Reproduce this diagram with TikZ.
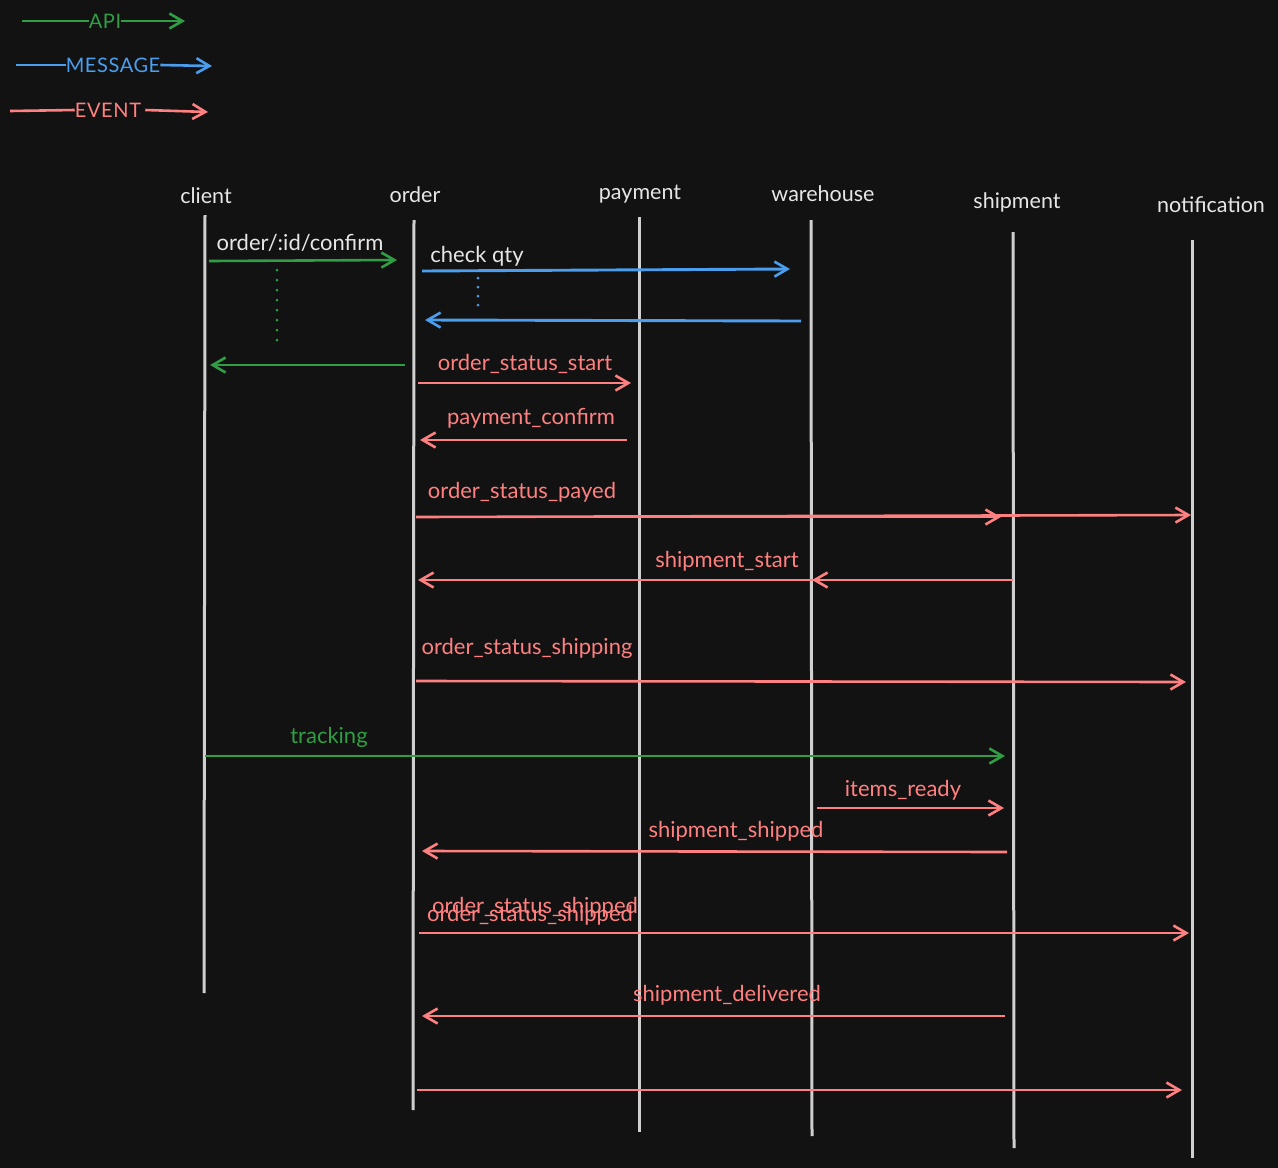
\documentclass[tikz,border=0pt]{standalone}
\usepackage{fontspec}
\setmainfont{Lato}
\usetikzlibrary{arrows.meta}
\definecolor{bg}{HTML}{121212}
\definecolor{ink}{HTML}{E6E6E6}
\definecolor{life}{HTML}{CFCFCF}
\definecolor{apic}{HTML}{2F9E44}
\definecolor{msgc}{HTML}{4A9EED}
\definecolor{evc}{HTML}{FF8080}
\tikzset{
  tip/.style={-{Straight Barb[length=13pt,width=15pt,line width=2.6pt]}},
  api/.style={tip,draw=apic,line width=2.6pt},
  msg/.style={tip,draw=msgc,line width=2.9pt},
  evt/.style={tip,draw=evc,line width=2.6pt},
  plain/.style={line width=2.6pt},
  lifeline/.style={draw=life,line width=3pt},
  dots/.style={line width=3pt,line cap=round,dash pattern=on 0pt off 10pt},
  head/.style={text=ink,font=\fontsize{21.5}{24}\selectfont,inner sep=0pt},
  lbl/.style={font=\fontsize{22}{25}\selectfont,inner sep=0pt},
  leg/.style={font=\fontsize{20}{23}\selectfont\addfontfeatures{LetterSpace=3},inner sep=0pt},
}
\begin{document}
\begin{tikzpicture}[x=1pt,y=-1pt]
\fill[bg] (0,0) rectangle (1278,1168);
\useasboundingbox (0,0) rectangle (1278,1168);

% legend
\node[leg,text=apic] (lapi) at (105,21) {API};
\coordinate (lapiA) at (22,21); \coordinate (lapiB) at (185,21);
\draw[apic,plain] (lapiA) -- (lapi.west);
\draw[api] (lapi.east) -- (lapiB);
\node[leg,text=msgc] (lmsg) at (113,65) {MESSAGE};
\coordinate (lmsgA) at (16,65); \coordinate (lmsgB) at (212,66);
\draw[msgc,plain] (lmsgA) -- (lmsg.west);
\draw[msg,line width=2.6pt] (lmsg.east) -- (lmsgB);
\node[leg,text=evc] (levt) at (108,110) {EVENT};
\coordinate (levtA) at (10,111); \coordinate (levtB) at (208,112);
\draw[evc,plain] (levtA) -- (levt.west);
\draw[evt] ([xshift=4pt]levt.east) -- (levtB);

% participants
\node[head] (client) at (206,196) {client};
\node[head] (order) at (415,195) {order};
\node[head] (payment) at (640,194) {payment};
\node[head] (warehouse) at (823,194) {warehouse};
\node[head] (shipment) at (1017,202) {shipment};
\node[head] (notification) at (1211,205) {notification};

% lifelines
\coordinate (clientT) at (205,215); \coordinate (clientB) at (204,993);
\coordinate (orderT) at (414,220); \coordinate (orderB) at (413,1110);
\coordinate (paymentT) at (639,217); \coordinate (paymentB) at (639,1132);
\coordinate (warehouseT) at (811,220); \coordinate (warehouseB) at (812,1136);
\coordinate (shipmentT) at (1013,232); \coordinate (shipmentB) at (1014,1148);
\coordinate (notificationT) at (1192,240); \coordinate (notificationB) at (1192,1158);
\foreach \p in {client,order,payment,warehouse,shipment,notification}
  \draw[lifeline] (\p T) -- (\p B);

% confirm request and reply
\node[lbl,text=ink] (tConfirm) at (300,243) {order/:id/confirm};
\coordinate (c1a) at (209,261); \coordinate (c1b) at (397,260);
\draw[api] (c1a) -- (c1b);
\coordinate (w1a) at (277,270); \coordinate (w1b) at (277,350);
\draw[apic,dots] (w1a) -- (w1b);
\coordinate (c2a) at (405,365); \coordinate (c2b) at (210,365);
\draw[api] (c2a) -- (c2b);

% stock check
\node[lbl,text=ink] (tQty) at (477,256) {check qty};
\coordinate (m1a) at (422,271); \coordinate (m1b) at (790,269);
\draw[msg] (m1a) -- (m1b);
\coordinate (w2a) at (478,278); \coordinate (w2b) at (478,308);
\draw[msgc,dots,dash pattern=on 0pt off 9pt] (w2a) -- (w2b);
\coordinate (m2a) at (801,321); \coordinate (m2b) at (425,320);
\draw[msg] (m2a) -- (m2b);

% payment
\node[lbl,text=evc] (tStart) at (525,364) {order\_status\_start};
\coordinate (e1a) at (418,383); \coordinate (e1b) at (631,383);
\draw[evt] (e1a) -- (e1b);
\node[lbl,text=evc] (tPay) at (531,418) {payment\_confirm};
\coordinate (e2a) at (627,440); \coordinate (e2b) at (420,440);
\draw[evt] (e2a) -- (e2b);

% payed
\node[lbl,text=evc] (tPayed) at (522,492) {order\_status\_payed};
\coordinate (e3a) at (416,517); \coordinate (e3b) at (1001,517);
\coordinate (e3c) at (1191,515);
\draw[evt] (e3a) -- (e3b);
\draw[evt] (e3a) -- (e3c);

% shipment start
\node[lbl,text=evc] (tShStart) at (727,561) {shipment\_start};
\coordinate (e4a) at (1013,580); \coordinate (e4b) at (418,580);
\coordinate (e4c) at (812,580);
\draw[evt] (e4a) -- (e4b);
\draw[evt] (e4a) -- (e4c);

% shipping
\node[lbl,text=evc] (tShipping) at (527,648) {order\_status\_shipping};
\coordinate (e5a) at (416,681); \coordinate (e5b) at (1186,682);
\draw[evt] (e5a) -- (e5b);

% tracking
\node[lbl,text=apic] (tTrack) at (329,737) {tracking};
\coordinate (c3a) at (205,756); \coordinate (c3b) at (1005,756);
\draw[api] (c3a) -- (c3b);

% items ready
\node[lbl,text=evc] (tItems) at (903,790) {items\_ready};
\coordinate (e6a) at (817,808); \coordinate (e6b) at (1004,808);
\draw[evt] (e6a) -- (e6b);

% shipped
\node[lbl,text=evc] (tShipped) at (736,831) {shipment\_shipped};
\coordinate (e7a) at (1007,852); \coordinate (e7b) at (422,851);
\draw[evt] (e7a) -- (e7b);
\node[lbl,text=evc] (tOShipA) at (535,907) {order\_status\_shipped};
\node[lbl,text=evc] (tOShipB) at (530,915) {order\_status\_shipped};
\coordinate (e8a) at (419,933); \coordinate (e8b) at (1189,933);
\draw[evt] (e8a) -- (e8b);

% delivered
\node[lbl,text=evc] (tDeliv) at (727,995) {shipment\_delivered};
\coordinate (e9a) at (1005,1016); \coordinate (e9b) at (422,1016);
\draw[evt] (e9a) -- (e9b);
\coordinate (e10a) at (417,1090); \coordinate (e10b) at (1182,1090);
\draw[evt] (e10a) -- (e10b);
\end{tikzpicture}
\end{document}
